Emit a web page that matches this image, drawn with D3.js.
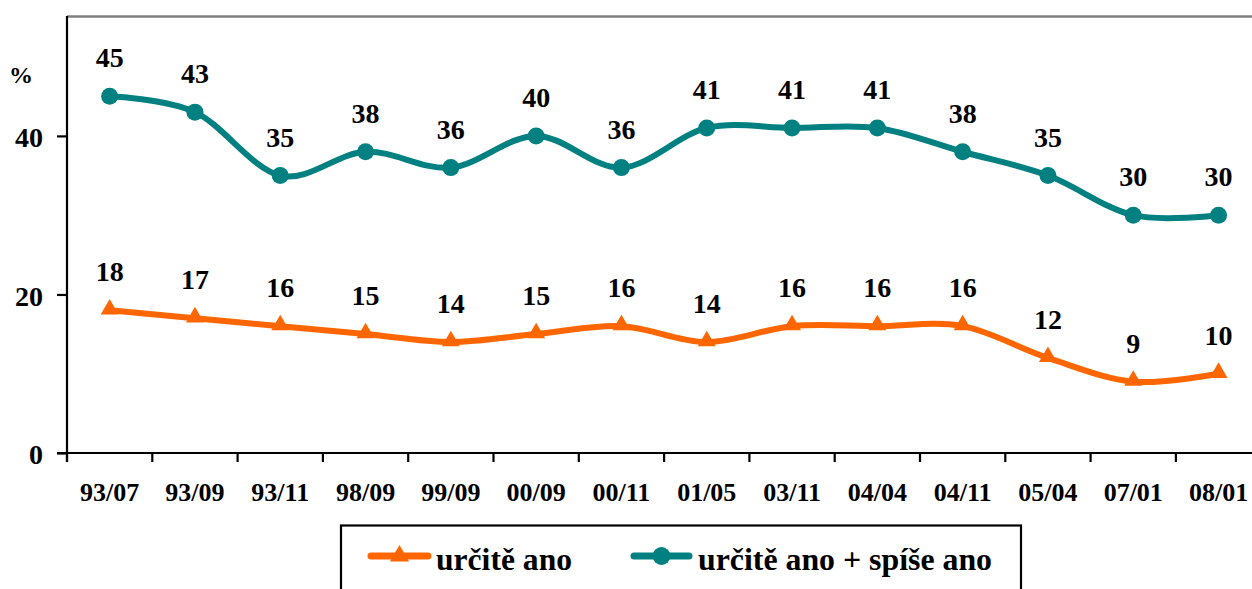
<!DOCTYPE html>
<html><head><meta charset="utf-8">
<script src="https://cdn.jsdelivr.net/npm/d3@7"></script>
<style>
html,body{margin:0;padding:0;background:#fff;overflow:hidden;}
</style></head>
<body>
<svg id="chart" width="1252" height="589"></svg>
<script>
const categories = ["93/07","93/09","93/11","98/09","99/09","00/09","00/11","01/05","03/11","04/04","04/11","05/04","07/01","08/01"];
const seriesNames = ["určitě ano","určitě ano + spíše ano"];
const urciteAno = [18,17,16,15,14,15,16,14,16,16,16,12,9,10];
const urciteSpiseAno = [45,43,35,38,36,40,36,41,41,41,38,35,30,30];
const yTicks = [0,20,40];

const FONT = "'Liberation Serif', Tinos, 'Times New Roman', serif";
const svg = d3.select("#chart");
const M = {left:67, top:17, bottom:453};
const plotW = 14*85.3;
const x = d3.scaleBand().domain(categories).range([M.left, M.left+plotW]);
const y = d3.scaleLinear().domain([0,55]).range([M.bottom, M.top]);
const cx = d => x(d) + x.bandwidth()/2;

// top border
svg.append("line").attr("x1",M.left).attr("x2",M.left+plotW).attr("y1",M.top-0.5).attr("y2",M.top-0.5)
  .attr("stroke","#808080").attr("stroke-width",2.5);

// y axis
const yAxis = svg.append("g").attr("transform",`translate(${M.left},0)`)
  .call(d3.axisLeft(y).tickValues(yTicks).tickSize(10).tickPadding(14).tickFormat(d3.format("d")));
yAxis.attr("font-family",FONT).attr("font-weight","bold");
yAxis.select(".domain").attr("d",`M0,${M.top-1}V${M.bottom+9}`).attr("stroke","#000").attr("stroke-width",2.2);
yAxis.selectAll(".tick line").attr("stroke","#000").attr("stroke-width",2.2);
yAxis.selectAll(".tick text").attr("font-size",28).attr("dy","0.38em").attr("fill","#000");

// x axis
const xAxis = svg.append("g").attr("transform",`translate(0,${M.bottom})`)
  .call(d3.axisBottom(x).tickSize(0).tickPadding(30));
xAxis.attr("font-family",FONT).attr("font-weight","bold");
xAxis.select(".domain").attr("d",`M${M.left-10},0H${M.left+plotW}`).attr("stroke","#000").attr("stroke-width",2.2);
xAxis.selectAll(".tick text").attr("font-size",26).attr("dy","0.7em").attr("fill","#000");
xAxis.selectAll(".sep").data(categories).enter().append("line")
  .attr("x1",d=>x(d)).attr("x2",d=>x(d)).attr("y1",0).attr("y2",9)
  .attr("stroke","#000").attr("stroke-width",2.2);

// % label
svg.append("text").attr("x",21).attr("y",83).attr("text-anchor","middle")
  .attr("font-family",FONT).attr("font-weight","bold").attr("font-size",24).text("%");

const line = d3.line().x((d,i)=>cx(categories[i])).y(d=>y(d)).curve(d3.curveCardinal.tension(0));
const tri = d3.symbol().type(d3.symbolTriangle).size(140);

function drawSeries(vals, color, marker){
  svg.append("path").datum(vals).attr("d",line).attr("fill","none")
    .attr("stroke",color).attr("stroke-width",6).attr("stroke-linecap","round");
  const g = svg.append("g");
  if(marker==="circle"){
    g.selectAll("circle").data(vals).enter().append("circle")
      .attr("cx",(d,i)=>cx(categories[i])).attr("cy",d=>y(d)).attr("r",8.5).attr("fill",color);
  } else {
    g.selectAll("path").data(vals).enter().append("path").attr("d",tri)
      .attr("transform",(d,i)=>`translate(${cx(categories[i])},${y(d)-1})`).attr("fill",color);
  }
  svg.append("g").attr("font-family",FONT).attr("font-weight","bold")
    .selectAll("text").data(vals).enter().append("text")
    .attr("x",(d,i)=>cx(categories[i])).attr("y",d=>y(d)-29)
    .attr("text-anchor","middle").attr("font-size",28).text(d=>d);
}
drawSeries(urciteAno,"#FF6600","triangle");
drawSeries(urciteSpiseAno,"#008080","circle");

// legend
const lg = svg.append("g");
lg.append("rect").attr("x",341).attr("y",525.5).attr("width",680).attr("height",80)
  .attr("fill","none").attr("stroke","#000").attr("stroke-width",2.2);
const items = [{name:seriesNames[0],color:"#FF6600",m:"triangle",x0:368,x1:431,tx:436,tw:136},
               {name:seriesNames[1],color:"#008080",m:"circle",x0:631,x1:692,tx:698,tw:294}];
items.forEach(it=>{
  lg.append("line").attr("x1",it.x0+3).attr("x2",it.x1-3).attr("y1",556).attr("y2",556)
    .attr("stroke",it.color).attr("stroke-width",7).attr("stroke-linecap","round");
  const mx = (it.x0+it.x1)/2;
  if(it.m==="circle") lg.append("circle").attr("cx",mx).attr("cy",556).attr("r",9).attr("fill",it.color);
  else lg.append("path").attr("d",d3.symbol().type(d3.symbolTriangle).size(160)).attr("transform",`translate(${mx},556)`).attr("fill",it.color);
  lg.append("text").attr("x",it.tx).attr("y",570).attr("font-size",32)
    .attr("font-family",FONT).attr("font-weight","bold")
    .attr("textLength",it.tw).attr("lengthAdjust","spacingAndGlyphs").text(it.name);
});
</script>
</body></html>
